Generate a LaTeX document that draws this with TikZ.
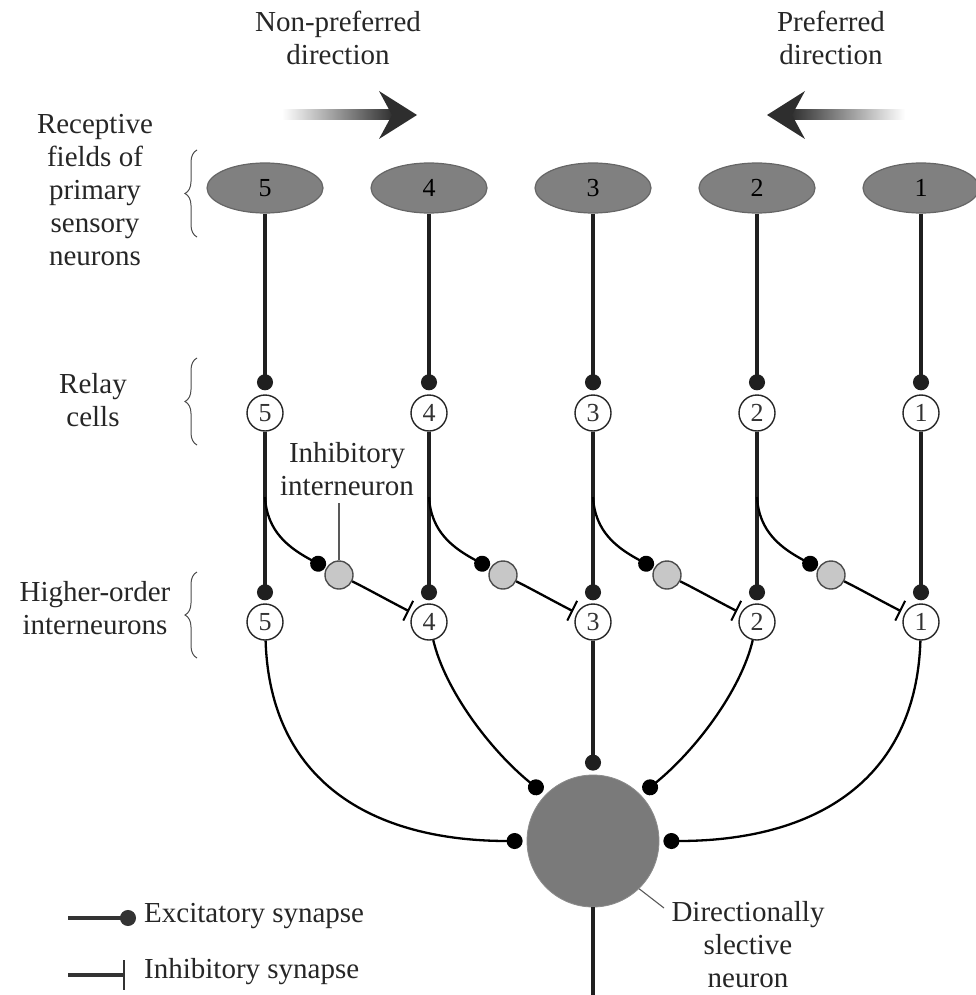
\documentclass[tikz,border=0pt]{standalone}
\usepackage{fontspec}
\setmainfont{Liberation Serif}
\usetikzlibrary{arrows.meta,decorations.pathreplacing,shapes.geometric}
\begin{document}
\begin{tikzpicture}[x=1pt,y=-1pt,
  field/.style={ellipse, draw=black!60, line width=1.2pt, fill=black!50, minimum width=116pt, minimum height=50pt, inner sep=0pt, font=\fontsize{26}{28}\selectfont, text=black},
  cell/.style={circle, draw=black!85, line width=1.4pt, fill=white, minimum size=36pt, inner sep=0pt, font=\fontsize{26}{28}\selectfont, text=black!80},
  inter/.style={circle, draw=black!70, line width=1.4pt, fill=black!22, minimum size=28pt, inner sep=0pt},
  soma/.style={circle, fill=black!52, draw=black!45, line width=0.8pt, minimum size=132pt, inner sep=0pt},
  axon/.style={line width=3.4pt, draw=black!88},
  fibre/.style={line width=2.3pt, draw=black},
  exc/.style={-{Circle[length=16pt,width=16pt]}, shorten >=4pt},
  inh/.style={-{Bar[width=22pt,line width=2pt]}},
  legline/.style={line width=3.2pt, draw=black!80},
  pointer/.style={line width=1.1pt, draw=black!65},
  lbl/.style={font=\fontsize{29}{33}\selectfont, align=center, inner sep=1pt, text=black!85},
  bracebox/.style={decorate, decoration={brace, amplitude=12pt}, line width=1pt, draw=black!70}
]
\useasboundingbox (0,0) rectangle (976,995);

% direction arrows
\shade[left color=white,right color=black!82] (282,110) rectangle (394,120);
\fill[black!82] (417,115) -- (379,91) -- (392,115) -- (379,139) -- cycle;
\shade[left color=black!82,right color=white] (790,110) rectangle (905,120);
\fill[black!82] (767,115) -- (805,91) -- (792,115) -- (805,139) -- cycle;
\node[lbl] (np) at (338,38) {Non-preferred\\direction};
\node[lbl] (pd) at (831,38) {Preferred\\direction};

% left labels and braces
\node[lbl] (rf) at (95,190) {Receptive\\fields of\\primary\\sensory\\neurons};
\node[lbl] (rc) at (93,400) {Relay\\cells};
\node[lbl] (ho) at (95,608) {Higher-order\\interneurons};
\draw[bracebox] (197,237) -- (197,150);
\draw[bracebox] (197,445) -- (197,358);
\draw[bracebox] (197,658) -- (197,572);

% columns
\foreach \n/\x in {5/265,4/429,3/593,2/757,1/921} {
  \node[field] (e\n) at (\x,188) {\n};
  \node[cell] (r\n) at (\x,413) {\n};
  \node[cell] (h\n) at (\x,622) {\n};
  \draw[axon,exc] (e\n.south) -- (r\n);
  \draw[axon,exc,shorten >=3pt] (r\n) -- (h\n);
}

% inhibitory interneurons
\foreach \n/\m/\x in {5/4/339,4/3/503,3/2/667,2/1/831} {
  \coordinate (b\n) at (\x-74,497);
  \node[inter] (i\n) at (\x,575) {};
  \draw[fibre,exc,shorten >=1pt] (b\n) .. controls +(2,35) and +(-50,-27) .. (i\n);
  \draw[fibre,inh,shorten >=4pt] (i\n) .. controls +(25,12) and +(-18,-9) .. (h\m.151);
}
\node[lbl] (ilbl) at (347,469) {Inhibitory\\interneuron};
\coordinate (itop) at (339,503);
\draw[pointer] (i5.north) -- (itop);

% directionally selective neuron
\node[soma] (s) at (593,841) {};
\draw[fibre,exc] (h5) .. controls (270,780) and (370,841) .. (s.west);
\draw[fibre,exc] (h4) .. controls (445,690) and (490,750) .. (s.136);
\draw[axon,exc] (h3) -- (s);
\draw[fibre,exc] (h2) .. controls (741,690) and (696,750) .. (s.44);
\draw[fibre,exc] (h1) .. controls (916,780) and (816,841) .. (s.east);
\coordinate (out) at (593,995);
\draw[axon] (s) -- (out);
\node[lbl] (dlbl) at (748,945) {Directionally\\slective\\neuron};
\coordinate (dptr) at (664,908);
\draw[pointer] (s.-46) -- (dptr);

% legend
\coordinate (l1a) at (68,918);
\coordinate (l1b) at (136,918);
\draw[legline,-{Circle[length=16pt,width=16pt]}] (l1a) -- (l1b);
\node[lbl,anchor=west] (lt1) at (143,916) {Excitatory synapse};
\coordinate (l2a) at (68,975);
\coordinate (l2b) at (125,975);
\draw[legline,-{Bar[width=30pt,line width=2.4pt]}] (l2a) -- (l2b);
\node[lbl,anchor=west] (lt2) at (143,972) {Inhibitory synapse};
\end{tikzpicture}
\end{document}
